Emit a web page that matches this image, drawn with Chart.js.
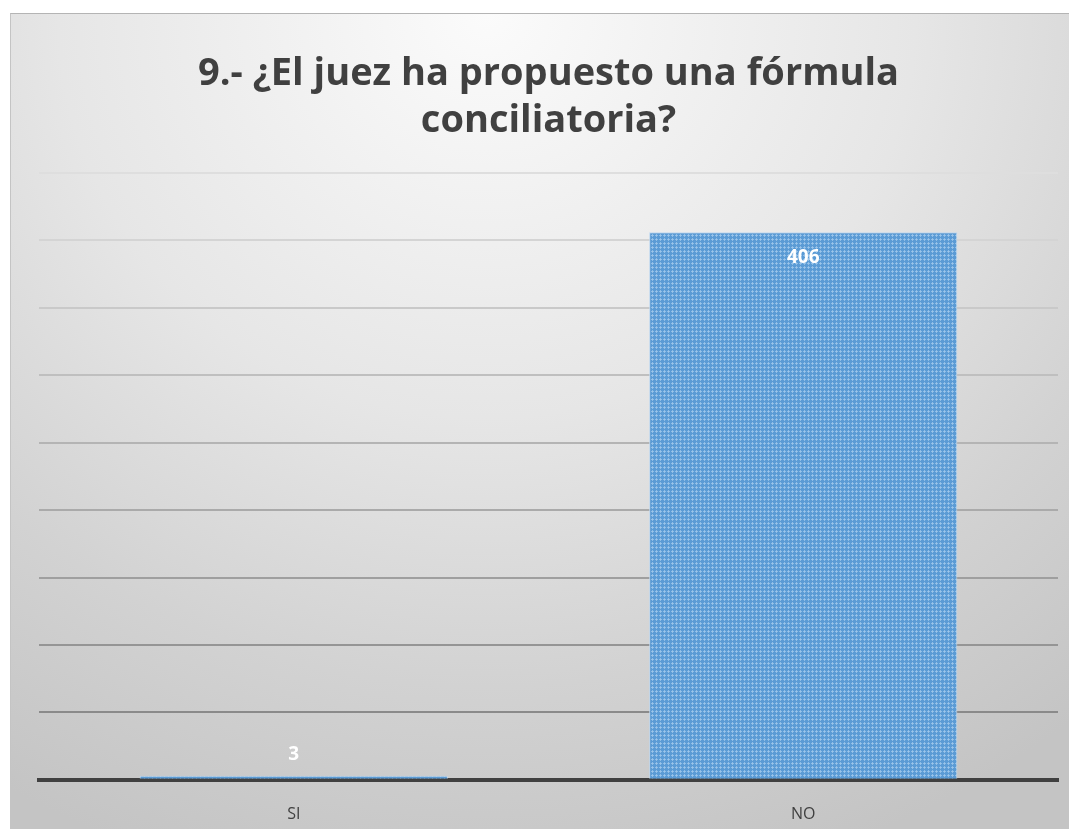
<!DOCTYPE html>
<html>
<head>
<meta charset="utf-8">
<script src="https://cdn.jsdelivr.net/npm/chart.js@4"></script>
<style>
  html, body { margin: 0; padding: 0; background: #ffffff; }
  body { width: 1069px; height: 829px; position: relative; overflow: hidden; }
  #marco {
    position: absolute; left: 10px; top: 13px; width: 1059px; height: 816px;
    border-top: 1px solid #b4b4b4; border-left: 1px solid #c4c4c4; box-sizing: border-box;
    background: radial-gradient(ellipse 90% 110% at 45% 0%, #fbfbfb 0%, #e6e6e6 45%, #d2d2d2 75%, #c4c4c4 100%);
  }
  #grafico { position: absolute; left: 0; top: 0; }
</style>
</head>
<body>
<div id="marco"><canvas id="grafico" width="1058" height="815"></canvas></div>
<script>
var categorias = ["SI", "NO"];
var respuestas = [3, 406];
var escalaMax = 450;
var escalaPaso = 50;

// trama de puntos claros sobre el azul de las barras
function trama() {
  var c = document.createElement("canvas");
  c.width = 4; c.height = 4;
  var g = c.getContext("2d");
  g.fillStyle = "#5b9bd5";
  g.fillRect(0, 0, 4, 4);
  g.fillStyle = "rgba(160,200,235,0.75)";
  g.fillRect(1, 0, 1, 3);
  g.fillRect(0, 1, 3, 1);
  return g.createPattern(c, "repeat");
}

// etiquetas de valor en blanco
var etiquetas = {
  id: "etiquetas",
  afterDatasetsDraw: function (chart) {
    var ctx = chart.ctx;
    var meta = chart.getDatasetMeta(0);
    ctx.save();
    ctx.fillStyle = "#ffffff";
    ctx.font = "bold 19px 'Open Sans'";
    ctx.textAlign = "center";
    ctx.textBaseline = "middle";
    meta.data.forEach(function (bar, i) {
      var alto = bar.base - bar.y;
      var y = alto < 40 ? bar.y - 21 : bar.y + 25;
      ctx.fillText(respuestas[i], bar.x, y);
    });
    ctx.restore();
  }
};

var ctx = document.getElementById("grafico");
new Chart(ctx, {
  type: "bar",
  data: {
    labels: categorias,
    datasets: [{
      data: respuestas,
      backgroundColor: trama(),
      borderColor: "rgba(190,215,240,0.9)",
      borderWidth: 1,
      categoryPercentage: 1,
      barPercentage: 0.605
    }]
  },
  options: {
    responsive: false,
    animation: false,
    layout: { padding: { left: 28, right: 11, bottom: -20 } },
    plugins: {
      legend: { display: false },
      tooltip: { enabled: false },
      title: {
        display: true,
        text: ["9.- ¿El juez ha propuesto una fórmula", "conciliatoria?"],
        color: "#404040",
        font: { family: "'Open Sans'", size: 38, weight: "bold", lineHeight: 1.25 },
        padding: { top: 36, bottom: 28 }
      }
    },
    scales: {
      x: {
        grid: { display: false, drawTicks: false },
        border: { color: "#404040", width: 4 },
        ticks: { color: "#404040", font: { family: "'Open Sans'", size: 16 }, padding: 25 }
      },
      y: {
        min: 0,
        max: escalaMax,
        ticks: { display: false, stepSize: escalaPaso },
        border: { display: false },
        grid: {
          drawTicks: false,
          lineWidth: 2,
          color: function (c) {
            var v = c.tick ? c.tick.value : 0;
            var t = v / escalaMax;
            var n = Math.round(128 + (222 - 128) * t);
            return "rgb(" + n + "," + n + "," + n + ")";
          }
        }
      }
    }
  },
  plugins: [etiquetas]
});
</script>
</body>
</html>
